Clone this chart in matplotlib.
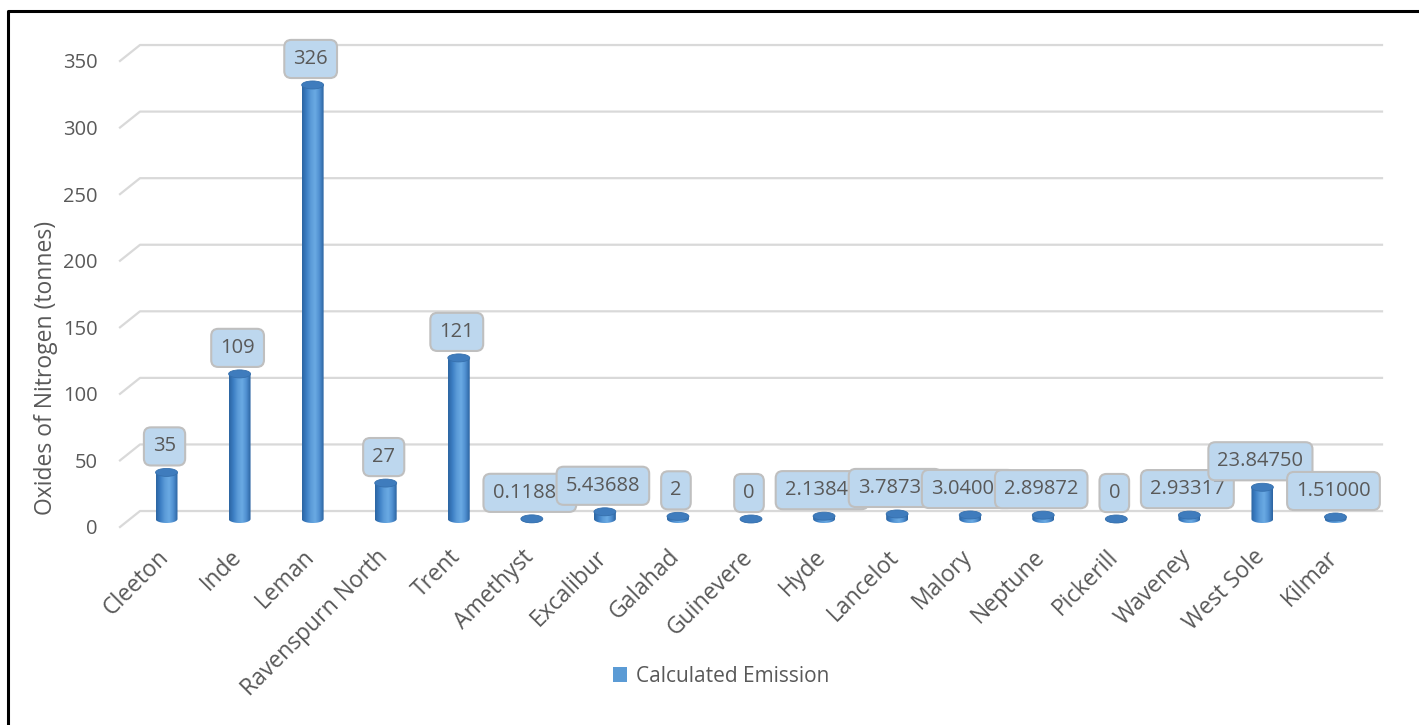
import numpy as np
import matplotlib
matplotlib.use("Agg")
import matplotlib.pyplot as plt
from matplotlib.patches import Ellipse, PathPatch, Patch
from matplotlib.path import Path
from matplotlib.lines import Line2D
from matplotlib.colors import LinearSegmentedColormap

plt.rcParams['font.family'] = ['Open Sans', 'DejaVu Sans']

# NOx emissions per field (tonnes)
fields = ["Cleeton", "Inde", "Leman", "Ravenspurn North", "Trent", "Amethyst",
          "Excalibur", "Galahad", "Guinevere", "Hyde", "Lancelot", "Malory",
          "Neptune", "Pickerill", "Waveney", "West Sole", "Kilmar"]
emission = [35, 109, 326, 27, 121, 0.1188, 5.43688, 2, 0, 2.1384, 3.7873,
            3.04, 2.89872, 0, 2.93317, 23.8475, 1.51]
value_labels = ["35", "109", "326", "27", "121", "0.11880", "5.43688", "2", "0",
                "2.13840", "3.78730", "3.04000", "2.89872", "0", "2.93317",
                "23.84750", "1.51000"]
y_ticks = [0, 50, 100, 150, 200, 250, 300, 350]

text_col = "#595959"
grid_col = "#d9d9d9"
fs = 14.5        # numbers
fs_cat = 16.5    # category names
fs_title = 16.5  # axis title

# pseudo-3D geometry (x in category units, y in data units)
back_dx, back_dy = 0.274, 12.0   # back wall offset
mid_dx, mid_dy = 0.137, 6.0      # where the cylinders stand
bar_w = 0.30
cap_h = 6.0

fig = plt.figure(figsize=(14.19, 7.25), dpi=100)
ax = fig.add_axes([120 / 1419, 198 / 725, 1242 / 1419, 466 / 725])
ax.set_xlim(-0.5, 16.5)
ax.set_ylim(0, 350)
for s in ax.spines.values():
    s.set_visible(False)

# back-wall gridlines with the short floor diagonal on the left
for v in y_ticks:
    ax.plot([-0.5, -0.5 + back_dx, 16.5 + back_dx], [v, v + back_dy, v + back_dy],
            color=grid_col, lw=1.6, clip_on=False, zorder=1)

cyl_cmap = LinearSegmentedColormap.from_list(
    "cyl", ["#2c65a2", "#3c7fc4", "#5b9bd8", "#6aaae3", "#4f8fd0", "#2b63a0"])
grad = np.linspace(0, 1, 64).reshape(1, -1)

for i, v in enumerate(emission):
    xc = i + mid_dx
    x0, x1 = xc - bar_w / 2, xc + bar_w / 2
    yb, yt = mid_dy, v + mid_dy
    t = np.linspace(np.pi, 2 * np.pi, 40)
    verts = [(x1, yt), (x0, yt)] + list(zip(xc + bar_w / 2 * np.cos(t),
                                            yb + cap_h / 2 * np.sin(t)))
    verts.append((x1, yt))
    codes = [Path.MOVETO] + [Path.LINETO] * (len(verts) - 2) + [Path.CLOSEPOLY]
    body = PathPatch(Path(verts, codes), transform=ax.transData)
    im = ax.imshow(grad, cmap=cyl_cmap, aspect="auto", interpolation="bilinear",
                   extent=[x0, x1, yb - cap_h / 2, yt], zorder=3)
    im.set_clip_path(body)
    ax.add_patch(Ellipse((xc, yt), bar_w, cap_h, facecolor="#3f7cbd",
                         edgecolor="#3670ad", lw=0.6, zorder=4))

# data labels
for i, (v, lab) in enumerate(zip(emission, value_labels)):
    ax.annotate(lab, (i + mid_dx, v + mid_dy), xytext=(-2, 26),
                textcoords="offset pixels", ha="center", va="center",
                fontsize=fs, color=text_col, zorder=6,
                bbox=dict(boxstyle="round,pad=0.45,rounding_size=0.35",
                          fc="#bdd7ee", ec="#bfbfbf", lw=1.5))

ax.set_xlim(-0.5, 16.5)
ax.set_ylim(0, 350)
ax.set_yticks(y_ticks)
ax.set_yticklabels([str(v) for v in y_ticks], fontsize=fs, color=text_col)
ax.set_xticks(range(len(fields)))
ax.set_xticklabels(fields, rotation=45, ha="right", rotation_mode="anchor",
                   fontsize=fs_cat, color=text_col)
ax.tick_params(axis="y", length=0, pad=16)
ax.tick_params(axis="x", length=0, pad=13)

fig.text(46 / 1419, (725 - 368) / 725, "Oxides of Nitrogen (tonnes)",
         rotation=90, ha="center", va="center", fontsize=fs_title, color=text_col)

leg = fig.legend(handles=[Patch(facecolor="#5b9bd5", edgecolor="none",
                                label="Calculated Emission")],
                 loc="center", bbox_to_anchor=(721 / 1419, (725 - 676) / 725),
                 frameon=False, fontsize=15, handlelength=0.7, handleheight=0.7,
                 handletextpad=0.4)
for t in leg.get_texts():
    t.set_color(text_col)

# outer frame (left and top edges)
fig.add_artist(Line2D([8 / 1419, 8 / 1419, 1.0], [0.0, 1 - 11 / 725, 1 - 11 / 725],
                      transform=fig.transFigure, color="black", lw=2.2))

fig.savefig("out.png", dpi=100)
